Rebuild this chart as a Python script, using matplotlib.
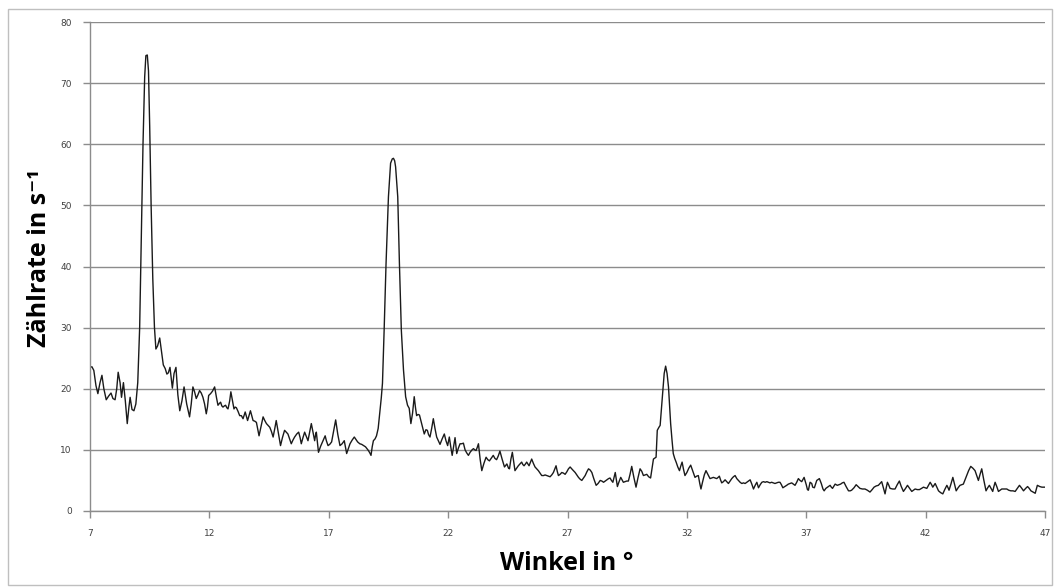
import matplotlib
matplotlib.use("Agg")
import matplotlib.pyplot as plt
from matplotlib.patches import Rectangle

# Winkel (deg) and Zählrate (1/s)
angle = [
    7.00, 7.08, 7.16, 7.25, 7.33, 7.42, 7.50, 7.58, 7.68, 7.78,
    7.88, 7.96, 8.05, 8.12, 8.18, 8.26, 8.32, 8.40, 8.48, 8.56,
    8.63, 8.68, 8.76, 8.84, 8.92, 9.00, 9.08, 9.15, 9.22, 9.29,
    9.34, 9.40, 9.45, 9.50, 9.56, 9.63, 9.70, 9.76, 9.83, 9.92,
    10.00, 10.07, 10.15, 10.22, 10.28, 10.35, 10.45, 10.52, 10.60, 10.68,
    10.76, 10.85, 10.94, 11.05, 11.17, 11.24, 11.31, 11.38, 11.45, 11.52,
    11.59, 11.66, 11.73, 11.80, 11.87, 11.92, 11.97, 12.05, 12.13, 12.22,
    12.30, 12.36, 12.42, 12.47, 12.52, 12.57, 12.63, 12.68, 12.73, 12.78,
    12.85, 12.90, 12.97, 13.03, 13.08, 13.13, 13.20, 13.27, 13.34, 13.41,
    13.46, 13.50, 13.55, 13.60, 13.66, 13.72, 13.78, 13.83, 13.90, 13.97,
    14.02, 14.08, 14.16, 14.25, 14.32, 14.39, 14.46, 14.53, 14.60, 14.67,
    14.74, 14.80, 14.88, 14.98, 15.06, 15.15, 15.22, 15.29, 15.36, 15.43,
    15.50, 15.57, 15.66, 15.74, 15.80, 15.85, 15.92, 15.99, 16.06, 16.13,
    16.20, 16.27, 16.34, 16.41, 16.45, 16.48, 16.52, 16.57, 16.66, 16.76,
    16.85, 16.90, 16.97, 17.04, 17.12, 17.20, 17.29, 17.38, 17.47, 17.56,
    17.65, 17.70, 17.75, 17.82, 17.89, 17.98, 18.07, 18.14, 18.21, 18.30,
    18.38, 18.46, 18.54, 18.60, 18.66, 18.72, 18.77, 18.82, 18.87, 18.94,
    19.00, 19.07, 19.14, 19.20, 19.25, 19.32, 19.40, 19.50, 19.59, 19.66,
    19.71, 19.76, 19.80, 19.89, 19.96, 20.04, 20.13, 20.22, 20.30, 20.37,
    20.44, 20.51, 20.58, 20.63, 20.68, 20.74, 20.80, 20.89, 21.00, 21.07,
    21.13, 21.18, 21.24, 21.31, 21.38, 21.45, 21.52, 21.59, 21.66, 21.75,
    21.84, 21.91, 21.98, 22.05, 22.11, 22.17, 22.23, 22.29, 22.36, 22.43,
    22.50, 22.57, 22.64, 22.71, 22.78, 22.85, 22.92, 23.00, 23.06, 23.12,
    23.17, 23.22, 23.27, 23.34, 23.41, 23.50, 23.59, 23.66, 23.73, 23.80,
    23.89, 23.96, 24.03, 24.10, 24.17, 24.26, 24.36, 24.46, 24.53, 24.57,
    24.63, 24.69, 24.74, 24.80, 24.87, 24.94, 25.01, 25.08, 25.13, 25.18,
    25.24, 25.29, 25.34, 25.39, 25.45, 25.50, 25.57, 25.64, 25.71, 25.78,
    25.85, 25.92, 26.00, 26.06, 26.13, 26.20, 26.27, 26.34, 26.41, 26.47,
    26.52, 26.57, 26.62, 26.69, 26.76, 26.83, 26.90, 26.97, 27.04, 27.11,
    27.20, 27.32, 27.39, 27.46, 27.53, 27.60, 27.67, 27.74, 27.81, 27.88,
    27.95, 28.02, 28.10, 28.20, 28.28, 28.37, 28.44, 28.51, 28.58, 28.65,
    28.72, 28.78, 28.84, 28.90, 28.95, 29.00, 29.05, 29.09, 29.16, 29.23,
    29.30, 29.34, 29.41, 29.48, 29.55, 29.62, 29.69, 29.78, 29.87, 29.95,
    30.04, 30.11, 30.18, 30.25, 30.32, 30.40, 30.48, 30.54, 30.60, 30.67,
    30.71, 30.76, 30.83, 30.88, 30.94, 30.99, 31.05, 31.11, 31.17, 31.23,
    31.28, 31.32, 31.38, 31.43, 31.49, 31.55, 31.62, 31.69, 31.74, 31.80,
    31.86, 31.92, 32.00, 32.08, 32.16, 32.25, 32.34, 32.41, 32.48, 32.54,
    32.59, 32.66, 32.73, 32.80, 32.88, 32.97, 33.04, 33.11, 33.18, 33.25,
    33.31, 33.36, 33.41, 33.46, 33.53, 33.60, 33.67, 33.74, 33.81, 33.88,
    33.95, 34.02, 34.09, 34.16, 34.23, 34.30, 34.37, 34.44, 34.51, 34.58,
    34.65, 34.72, 34.79, 34.86, 34.93, 35.00, 35.07, 35.14, 35.21, 35.28,
    35.35, 35.42, 35.48, 35.55, 35.62, 35.69, 35.76, 35.83, 35.90, 35.96,
    36.02, 36.10, 36.18, 36.25, 36.32, 36.39, 36.46, 36.53, 36.60, 36.67,
    36.74, 36.81, 36.91, 37.00, 37.05, 37.09, 37.16, 37.23, 37.27, 37.34,
    37.44, 37.55, 37.63, 37.70, 37.75, 37.82, 37.89, 38.00, 38.05, 38.10,
    38.16, 38.21, 38.30, 38.37, 38.44, 38.51, 38.58, 38.67, 38.77, 38.84,
    38.90, 39.00, 39.09, 39.17, 39.25, 39.35, 39.46, 39.56, 39.67, 39.76,
    39.84, 39.93, 40.02, 40.09, 40.16, 40.23, 40.30, 40.35, 40.40, 40.46,
    40.51, 40.62, 40.72, 40.81, 40.90, 40.98, 41.07, 41.16, 41.24, 41.33,
    41.42, 41.49, 41.56, 41.65, 41.74, 41.83, 41.91, 41.98, 42.05, 42.12,
    42.19, 42.25, 42.30, 42.35, 42.40, 42.47, 42.54, 42.63, 42.72, 42.80,
    42.89, 42.94, 42.98, 43.06, 43.14, 43.21, 43.28, 43.36, 43.44, 43.51,
    43.58, 43.65, 43.72, 43.80, 43.89, 43.98, 44.07, 44.14, 44.21, 44.28,
    44.35, 44.44, 44.53, 44.60, 44.67, 44.74, 44.81, 44.86, 44.91, 44.98,
    45.05, 45.12, 45.19, 45.29, 45.40, 45.48, 45.57, 45.66, 45.75, 45.84,
    45.93, 46.01, 46.10, 46.19, 46.27, 46.34, 46.41, 46.50, 46.59, 46.64,
    46.68, 46.78, 46.87, 46.95, 47.00,
]
rate = [
    23.5, 23.6, 23.0, 20.5, 19.2, 21.0, 22.2, 20.0, 18.2, 18.8,
    19.3, 18.4, 18.2, 20.0, 22.7, 21.0, 18.6, 21.0, 18.0, 14.3,
    17.0, 18.6, 16.6, 16.4, 17.5, 21.0, 30.0, 45.0, 60.0, 71.0,
    74.5, 74.6, 72.0, 63.0, 50.0, 38.0, 30.0, 26.5, 27.0, 28.3,
    26.0, 23.9, 23.3, 22.4, 22.6, 23.5, 20.1, 22.5, 23.5, 19.0,
    16.4, 18.0, 20.3, 17.5, 15.4, 17.5, 20.3, 19.5, 18.4, 19.0,
    19.7, 19.3, 18.6, 17.5, 15.9, 17.0, 18.9, 19.2, 19.6, 20.3,
    18.5, 17.3, 17.6, 17.8, 17.2, 17.0, 17.2, 17.3, 16.9, 16.7,
    18.0, 19.5, 18.0, 16.7, 17.0, 16.9, 16.3, 15.6, 15.6, 15.1,
    15.7, 16.2, 15.5, 14.8, 15.6, 16.4, 15.5, 14.8, 14.7, 14.5,
    13.5, 12.3, 13.8, 15.4, 14.8, 14.3, 14.0, 13.7, 13.0, 12.1,
    13.5, 14.8, 13.0, 10.7, 12.0, 13.2, 12.9, 12.6, 11.8, 11.0,
    11.6, 12.1, 12.6, 12.9, 12.0, 11.0, 12.0, 12.9, 12.2, 11.5,
    12.9, 14.3, 12.9, 11.5, 12.5, 12.9, 11.5, 9.6, 10.6, 11.5,
    12.3, 11.5, 10.7, 10.9, 11.3, 13.0, 14.9, 12.5, 10.7, 11.0,
    11.5, 10.4, 9.4, 10.2, 11.0, 11.6, 12.1, 11.7, 11.3, 11.0,
    10.9, 10.7, 10.5, 10.2, 9.9, 9.5, 9.1, 10.5, 11.5, 11.8,
    12.3, 13.5, 16.2, 18.5, 20.9, 29.6, 40.5, 51.4, 56.9, 57.6,
    57.7, 57.3, 56.3, 51.4, 40.5, 29.6, 23.1, 18.7, 17.3, 16.8,
    14.3, 16.0, 18.7, 17.0, 15.6, 15.8, 15.7, 14.3, 12.6, 13.3,
    13.2, 12.5, 12.1, 13.5, 15.1, 13.5, 12.1, 11.5, 10.9, 11.8,
    12.6, 11.5, 10.7, 12.1, 10.5, 9.1, 10.5, 12.0, 9.4, 10.3,
    11.0, 11.0, 11.1, 10.0, 9.5, 9.1, 9.6, 10.0, 10.2, 10.0,
    9.9, 10.4, 11.0, 8.5, 6.6, 7.8, 8.8, 8.4, 8.2, 8.6,
    9.1, 8.6, 8.4, 9.0, 9.8, 8.5, 7.2, 7.7, 7.0, 6.9,
    8.5, 9.6, 8.2, 6.6, 7.0, 7.4, 7.7, 8.0, 7.6, 7.4,
    7.7, 8.0, 7.7, 7.4, 8.0, 8.5, 7.8, 7.2, 6.9, 6.6,
    6.2, 5.8, 5.8, 5.9, 5.8, 5.7, 5.6, 5.9, 6.3, 6.9,
    7.4, 6.5, 5.8, 6.0, 6.3, 6.2, 6.0, 6.4, 6.9, 7.2,
    6.8, 6.3, 5.9, 5.5, 5.2, 5.0, 5.4, 5.8, 6.4, 6.9,
    6.7, 6.3, 5.3, 4.2, 4.5, 5.0, 4.9, 4.7, 4.9, 5.1,
    5.3, 5.4, 5.0, 4.7, 5.5, 6.3, 5.0, 4.0, 4.8, 5.5,
    5.0, 4.7, 4.8, 4.9, 4.9, 6.0, 7.3, 5.5, 3.9, 5.4,
    6.9, 6.5, 5.8, 5.9, 6.0, 5.6, 5.4, 7.0, 8.5, 8.7,
    8.8, 13.2, 13.7, 14.0, 17.0, 19.7, 22.5, 23.7, 22.5, 20.3,
    17.0, 14.3, 11.5, 9.4, 8.6, 8.0, 7.2, 6.6, 7.3, 8.0,
    6.8, 5.8, 6.3, 7.0, 7.5, 6.5, 5.5, 5.7, 5.8, 4.5,
    3.6, 4.8, 5.9, 6.6, 6.0, 5.3, 5.4, 5.5, 5.4, 5.3,
    5.5, 5.7, 5.1, 4.6, 4.8, 5.1, 4.8, 4.5, 4.9, 5.3,
    5.6, 5.8, 5.3, 5.0, 4.7, 4.5, 4.6, 4.5, 4.7, 4.9,
    5.1, 4.4, 3.6, 4.2, 4.7, 3.8, 4.3, 4.7, 4.8, 4.7,
    4.8, 4.7, 4.6, 4.7, 4.6, 4.5, 4.6, 4.7, 4.7, 4.3,
    3.8, 4.0, 4.2, 4.4, 4.5, 4.6, 4.4, 4.2, 4.7, 5.3,
    5.0, 4.8, 5.5, 4.3, 3.5, 3.4, 4.7, 4.5, 3.9, 3.8,
    5.0, 5.3, 4.5, 3.6, 3.3, 3.7, 3.9, 4.2, 3.9, 3.7,
    4.1, 4.4, 4.2, 4.3, 4.4, 4.6, 4.7, 4.0, 3.3, 3.3,
    3.4, 3.8, 4.3, 4.0, 3.7, 3.6, 3.6, 3.4, 3.1, 3.5,
    3.9, 4.1, 4.2, 4.5, 4.8, 3.8, 2.8, 3.8, 4.7, 4.2,
    3.7, 3.6, 3.6, 4.3, 4.9, 4.0, 3.2, 3.7, 4.2, 3.7,
    3.2, 3.4, 3.6, 3.5, 3.5, 3.7, 3.9, 3.8, 3.7, 4.2,
    4.7, 4.3, 3.9, 4.2, 4.5, 3.9, 3.3, 3.0, 2.8, 3.5,
    4.2, 3.8, 3.4, 4.4, 5.5, 4.4, 3.3, 3.8, 4.2, 4.3,
    4.4, 5.1, 5.8, 6.6, 7.3, 7.0, 6.6, 5.8, 5.0, 6.0,
    6.9, 5.0, 3.3, 3.8, 4.2, 3.7, 3.2, 4.0, 4.7, 4.0,
    3.2, 3.4, 3.6, 3.6, 3.6, 3.4, 3.3, 3.3, 3.2, 3.7,
    4.2, 3.8, 3.3, 3.7, 4.0, 3.7, 3.3, 3.1, 2.9, 3.6,
    4.2, 4.0, 3.9, 3.9, 3.9,
]

x_ticks = [7, 12, 17, 22, 27, 32, 37, 42, 47]
y_ticks = [0, 10, 20, 30, 40, 50, 60, 70, 80]

W, H = 1057, 587
fig = plt.figure(figsize=(W / 100, H / 100), dpi=100)

# light frame around the whole chart area
fig.patches.append(Rectangle((8 / W, 2 / H), 1044 / W, 576 / H, transform=fig.transFigure,
                             fill=False, edgecolor="#bfbfbf", linewidth=1))

ax = fig.add_axes([90 / W, (H - 511) / H, 955 / W, 489 / H])
ax.plot(angle, rate, color="#1a1a1a", linewidth=1.0)

ax.set_xlim(7, 47)
ax.set_ylim(0, 80)
ax.set_xticks(x_ticks)
ax.set_yticks(y_ticks)
ax.grid(axis="y", color="#8c8c8c", linewidth=1)
ax.set_axisbelow(True)

for side in ["top", "right"]:
    ax.spines[side].set_visible(False)
for side in ["left", "bottom"]:
    ax.spines[side].set_color("#8c8c8c")
    ax.spines[side].set_linewidth(1)

ax.tick_params(axis="both", direction="out", length=5, width=1, color="#8c8c8c",
               labelsize=6.5, labelcolor="#404040")
ax.tick_params(axis="x", pad=8)
ax.tick_params(axis="y", pad=8)

fig.text(567 / W, 1 - 563 / H, "Winkel in °", ha="center", va="center",
         fontsize=18, fontweight="bold", family=["Open Sans", "DejaVu Sans"])
fig.text(40 / W, 1 - 258 / H, "Zählrate in s⁻¹", ha="center", va="center", rotation=90,
         fontsize=18, fontweight="bold", family=["Open Sans", "DejaVu Sans"])

plt.savefig("out.png", dpi=100)
plt.close()
